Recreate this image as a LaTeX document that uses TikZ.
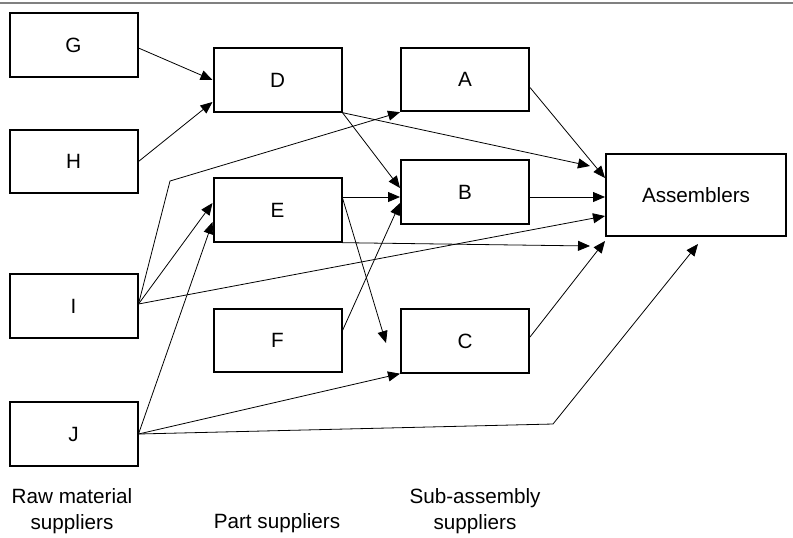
\documentclass[tikz,border=0pt]{standalone}
\usepackage{fontspec}
\setmainfont{Liberation Sans}
\usetikzlibrary{arrows.meta,calc}
\begin{document}
\begin{tikzpicture}[x=0.75pt,y=-0.75pt,
  box/.style={draw,line width=1.5pt,minimum width=96pt,minimum height=47.5pt,inner sep=0pt,font=\fontsize{15.5}{18}\selectfont},
  conn/.style={line width=0.6pt,-{Triangle[length=9pt,width=7.5pt]}},
  lab/.style={align=center,inner sep=0pt,font=\fontsize{15.5}{19}\selectfont}]
\useasboundingbox (0,0) rectangle (793,537);
\draw[gray,line width=1.2pt] (0,3) -- (793,3);
% nodes
\node[box] (G) at (73.5,45) {G};
\node[box] (H) at (73.5,161.5) {H};
\node[box] (I) at (73.5,306) {I};
\node[box] (J) at (73.5,434) {J};
\node[box] (D) at (277.5,80) {D};
\node[box] (E) at (277.5,210) {E};
\node[box] (F) at (277.5,340.5) {F};
\node[box] (A) at (465,79.5) {A};
\node[box] (B) at (465,192) {B};
\node[box] (C) at (465,341) {C};
\node[box,minimum width=135pt,minimum height=61.5pt] (Ass) at (696,195) {Assemblers};
% labels
\node[lab] (l1) at (72,511) {Raw material\\suppliers};
\node[lab,anchor=base] (l2) at (277,528) {Part suppliers};
\node[lab] (l3) at (475,511) {Sub-assembly\\suppliers};
% helper coordinates
\coordinate (I0) at ($(I.east)+(0,-2)$);
\coordinate (J0) at (J.east);
\coordinate (k1) at (170,181);
\coordinate (a1) at (590,166);
\coordinate (e1) at (590,246);
\coordinate (e2) at (386,343);
\coordinate (j1) at (553,424);
\coordinate (j2) at (698,244);
% connectors
\draw[conn] ($(G.east)+(0,3)$) -- (D.west);
\draw[conn] (H.east) -- ($(D.west)+(0,22)$);
\draw[conn] (D.south east) -- (a1);
\draw[conn] (D.south east) -- ($(B.west)+(0,-4)$);
\draw[conn] (I0) -- (k1) -- (A.south west);
\draw[conn] ($(A.east)+(0,8)$) -- ($(Ass.west)+(0,-17)$);
\draw[conn] ($(E.east)+(0,-13)$) -- ($(B.west)+(0,5)$);
\draw[conn] ($(B.east)+(0,5)$) -- ($(Ass.west)+(0,2)$);
\draw[conn] (E.south east) -- (e1);
\draw[conn] (I0) -- ($(Ass.west)+(0,21)$);
\draw[conn] ($(E.east)+(0,-12)$) -- (e2);
\draw[conn] ($(F.east)+(0,-10)$) -- ($(B.west)+(0,11)$);
\draw[conn] ($(C.east)+(0,-4)$) -- ($(Ass.south west)+(0,4)$);
\draw[conn] (I0) -- ($(E.west)+(0,-7)$);
\draw[conn] (J0) -- ($(E.west)+(0,12)$);
\draw[conn] (J0) -- (C.south west);
\draw[conn] (J0) -- (j1) -- (j2);
\end{tikzpicture}
\end{document}
